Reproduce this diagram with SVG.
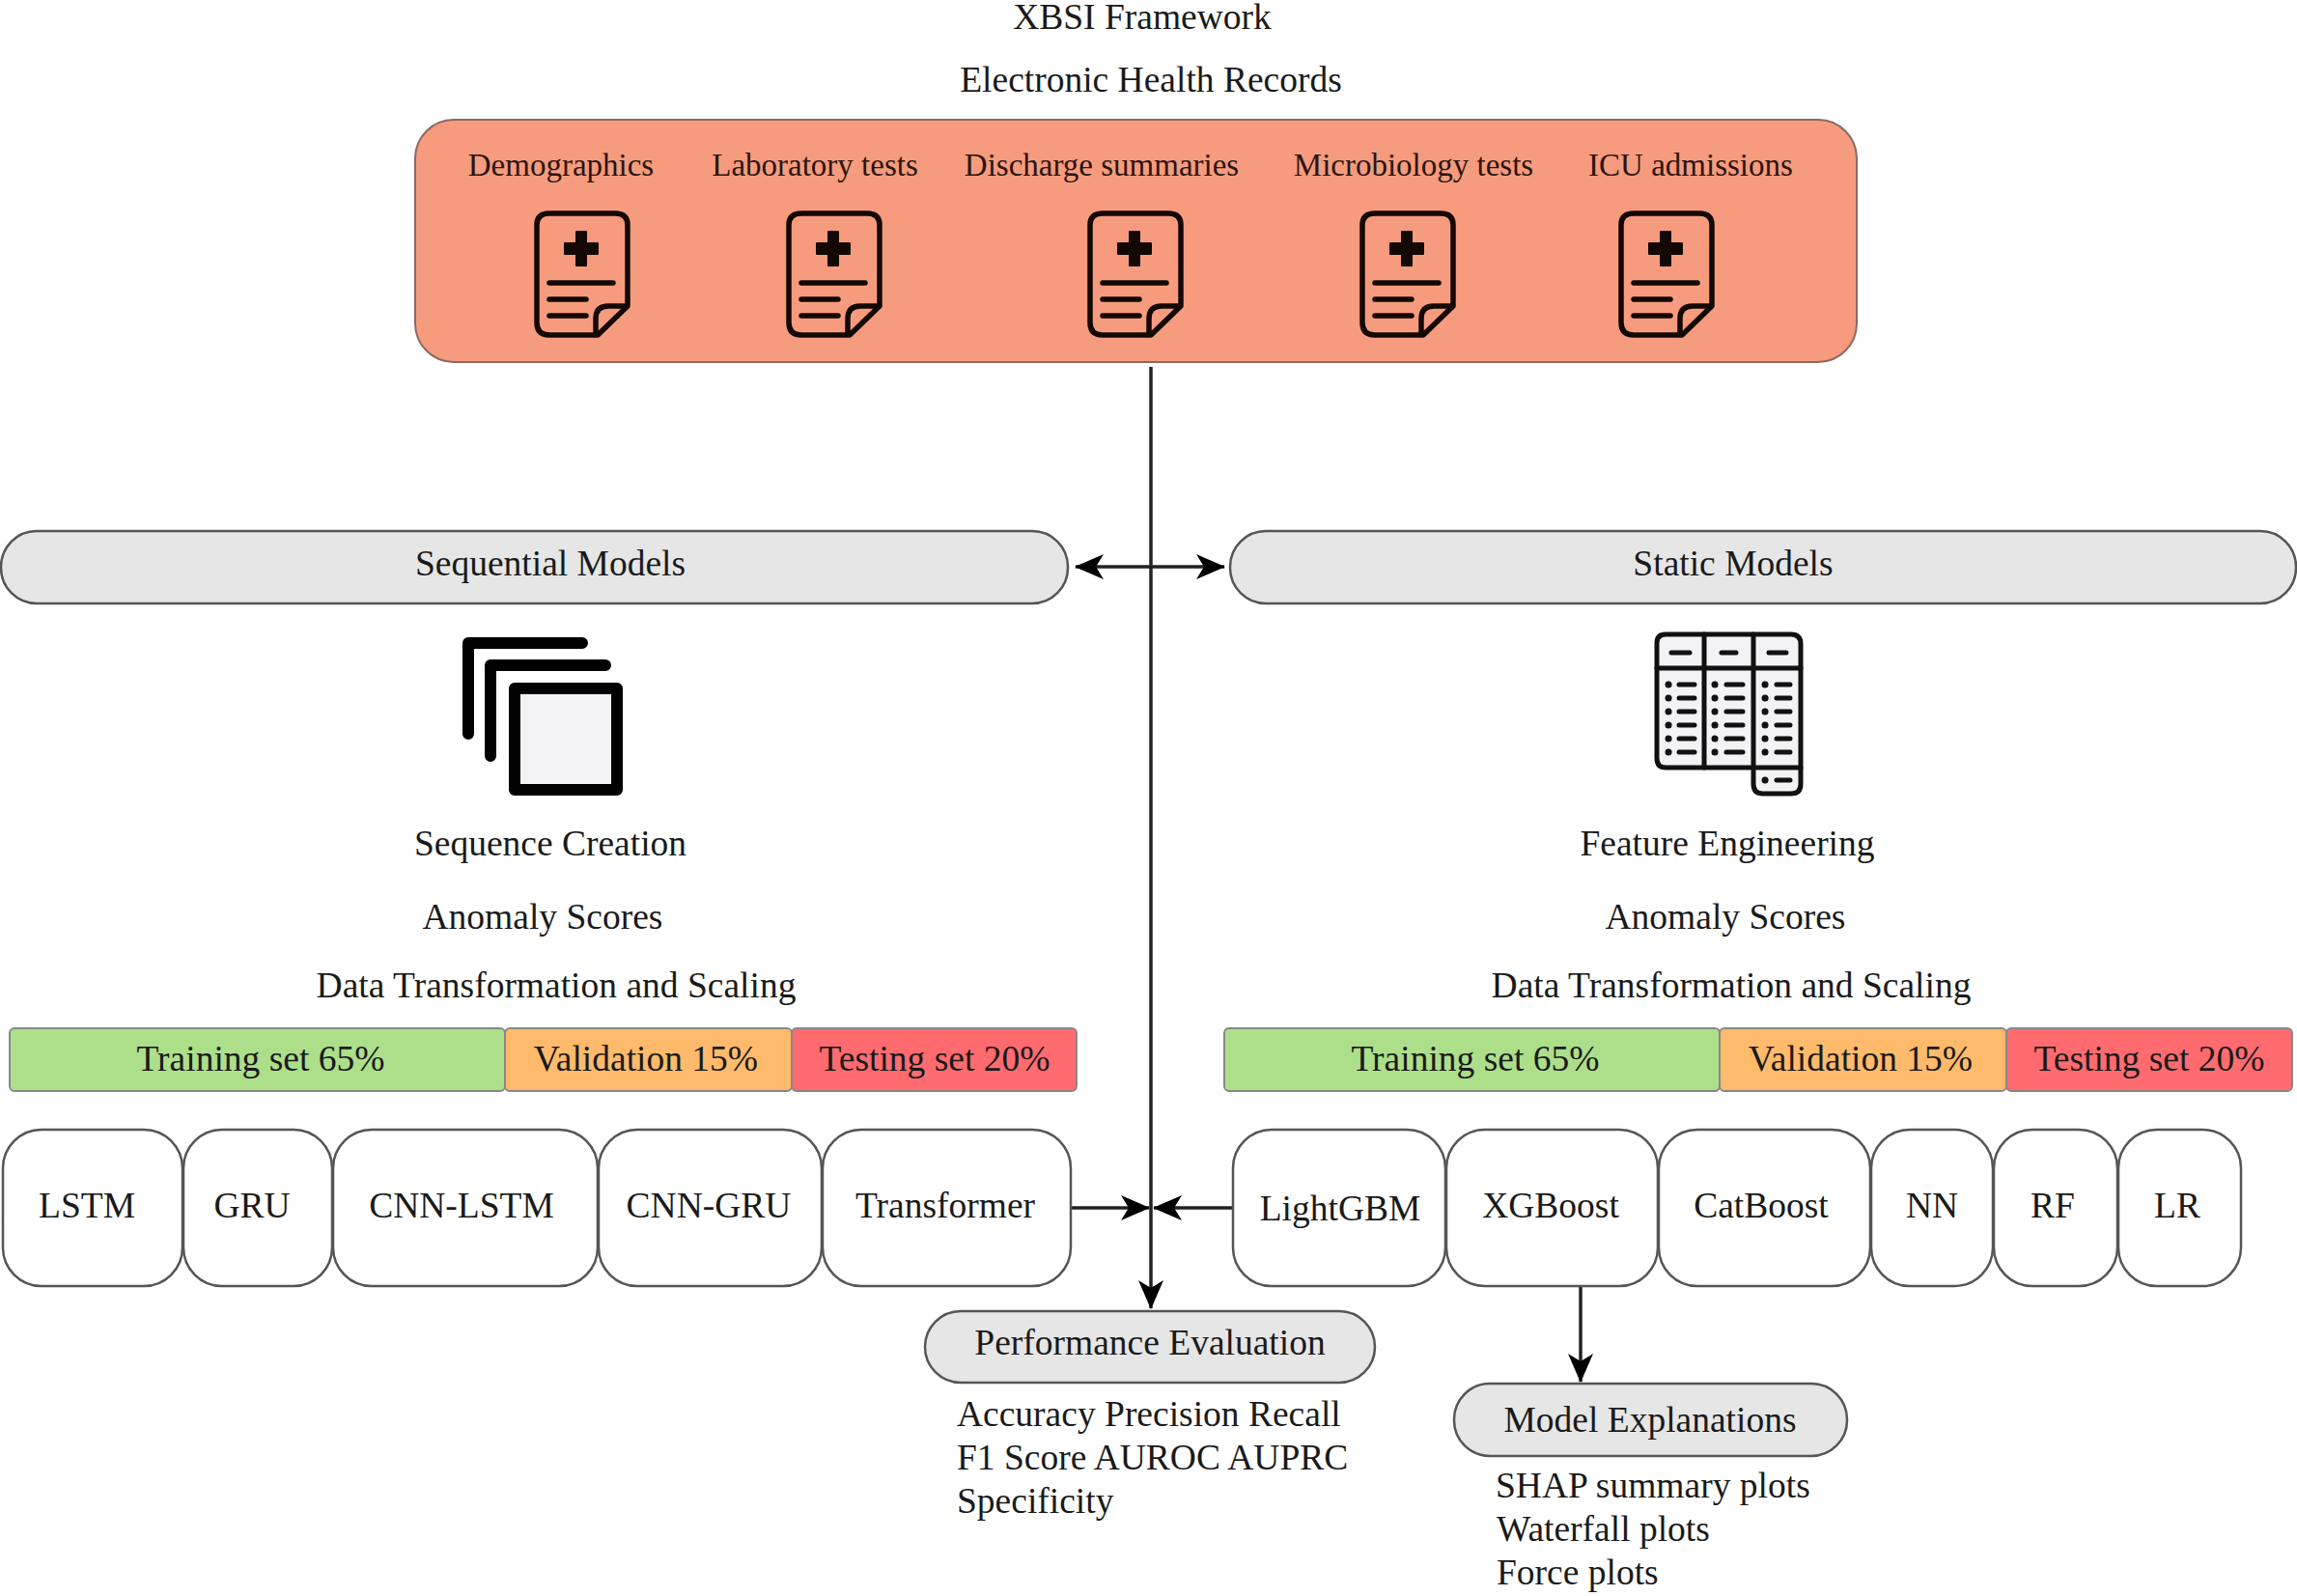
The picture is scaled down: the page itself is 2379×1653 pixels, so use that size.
<svg xmlns="http://www.w3.org/2000/svg" xmlns:xlink="http://www.w3.org/1999/xlink" width="2379" height="1653" viewBox="0 0 2379 1653">
<style>
text{font-family:"Liberation Serif","Times New Roman",serif;font-size:37.5px;fill:#1a1a1a}
.m{text-anchor:middle}
.s{font-size:33px;fill:#2b1510}
.pill{fill:#e6e6e6;stroke:#555;stroke-width:2.5}
.box{fill:#fff;stroke:#555;stroke-width:2.5}
.bar{stroke:#888;stroke-width:2}
.conn{fill:none;stroke:#222;stroke-width:3.5}
.ic{fill:none;stroke:#140805;stroke-width:5.5;stroke-linecap:round;stroke-linejoin:round}
</style>
<defs>
<marker id="ah" viewBox="0 0 30 26" refX="29" refY="13" markerWidth="30" markerHeight="26" markerUnits="userSpaceOnUse" orient="auto-start-reverse"><path d="M0 0L30 13L0 26L8 13Z" fill="#000"/></marker>
<symbol id="doc" overflow="visible"><g class="ic">
<path d="M62 129H16Q3 129 3 116V15Q3 3 16 3H84Q97 3 97 15V99L66 129Q64 129 62 129Z"/>
<path d="M64 128V112Q64 99 77 99H96"/>
<path d="M16 75H82M16 92H54M16 109H54"/></g>
<path d="M44 22H54V34H66V45H54V57H44V45H32V34H44Z" fill="#140805" stroke="#140805" stroke-width="2" stroke-linejoin="round"/>
</symbol>
</defs>
<rect width="2379" height="1653" fill="#fff"/>
<text class="m" x="1183" y="30">XBSI Framework</text>
<text class="m" x="1192" y="95">Electronic Health Records</text>
<g id="ehr">
<rect x="430" y="124" width="1493" height="251" rx="40" fill="#f79b7e" stroke="#8a6a60" stroke-width="2"/>
<text class="m s" x="581" y="182">Demographics</text>
<text class="m s" x="844" y="182">Laboratory tests</text>
<text class="m s" x="1141" y="182">Discharge summaries</text>
<text class="m s" x="1464" y="182">Microbiology tests</text>
<text class="m s" x="1751" y="182">ICU admissions</text>
<use xlink:href="#doc" href="#doc" x="553" y="218"/>
<use xlink:href="#doc" href="#doc" x="814" y="218"/>
<use xlink:href="#doc" href="#doc" x="1126" y="218"/>
<use xlink:href="#doc" href="#doc" x="1408" y="218"/>
<use xlink:href="#doc" href="#doc" x="1676" y="218"/>
</g>
<g id="connectors">
<path class="conn" d="M1192 380V1355" marker-end="url(#ah)"/>
<path class="conn" d="M1114 587H1268" marker-start="url(#ah)" marker-end="url(#ah)"/>
<path class="conn" d="M1109 1251H1190" marker-end="url(#ah)"/>
<path class="conn" d="M1277 1251H1195" marker-end="url(#ah)"/>
<path class="conn" d="M1637 1332V1431" marker-end="url(#ah)"/>
</g>
<g id="sequential-models"><rect class="pill" x="1" y="550" width="1105" height="75" rx="37"/><text class="m" x="570" y="596">Sequential Models</text></g>
<g id="static-models"><rect class="pill" x="1274" y="550" width="1104" height="75" rx="37"/><text class="m" x="1795" y="596">Static Models</text></g>
<g id="sequence-icon">
<path d="M603 666H485V760M627 689H508V783" fill="none" stroke="#000" stroke-width="12" stroke-linecap="round" stroke-linejoin="round"/>
<rect x="533" y="713" width="106" height="105" fill="#f3f3f5" stroke="#000" stroke-width="12" stroke-linejoin="round"/>
</g>
<g id="table-icon" fill="none" stroke="#111" stroke-width="5" stroke-linecap="round">
<path fill="#f3f3f5" d="M1725 657H1855Q1865 657 1865 667V812Q1865 822 1855 822H1826Q1816 822 1816 812V795H1725Q1716 795 1716 785V666Q1716 657 1725 657Z"/>
<path d="M1716 692H1865M1765 657V795M1816 657V795M1816 795H1865"/>
<path d="M1731 676H1750M1783 676H1798M1832 676H1850"/>
<path d="M1739 709H1755M1788 709H1805M1840 709H1854M1739 723H1755M1788 723H1805M1840 723H1854M1739 737H1755M1788 737H1805M1840 737H1854M1739 751H1755M1788 751H1805M1840 751H1854M1739 765H1755M1788 765H1805M1840 765H1854M1739 779H1755M1788 779H1805M1840 779H1854M1840 808H1854"/>
<path stroke-width="7" d="M1728 709h.1M1776 709h.1M1828 709h.1M1728 723h.1M1776 723h.1M1828 723h.1M1728 737h.1M1776 737h.1M1828 737h.1M1728 751h.1M1776 751h.1M1828 751h.1M1728 765h.1M1776 765h.1M1828 765h.1M1728 779h.1M1776 779h.1M1828 779h.1M1828 808h.1"/>
</g>
<g id="left-steps">
<text class="m" x="570" y="886">Sequence Creation</text>
<text class="m" x="562" y="962">Anomaly Scores</text>
<text class="m" x="576" y="1033">Data Transformation and Scaling</text>
</g>
<g id="right-steps">
<text class="m" x="1789" y="886">Feature Engineering</text>
<text class="m" x="1787" y="962">Anomaly Scores</text>
<text class="m" x="1793" y="1033">Data Transformation and Scaling</text>
</g>
<g id="left-split">
<rect class="bar" x="10" y="1065" width="513" height="65" rx="5" fill="#addf8b"/>
<rect class="bar" x="523" y="1065" width="297" height="65" rx="5" fill="#ffba6b"/>
<rect class="bar" x="820" y="1065" width="295" height="65" rx="5" fill="#ff6b6f"/>
<text class="m" x="270" y="1109">Training set 65%</text>
<text class="m" x="669" y="1109">Validation 15%</text>
<text class="m" x="968" y="1109">Testing set 20%</text>
</g>
<g id="right-split">
<rect class="bar" x="1268" y="1065" width="513" height="65" rx="5" fill="#addf8b"/>
<rect class="bar" x="1781" y="1065" width="297" height="65" rx="5" fill="#ffba6b"/>
<rect class="bar" x="2078" y="1065" width="296" height="65" rx="5" fill="#ff6b6f"/>
<text class="m" x="1528" y="1109">Training set 65%</text>
<text class="m" x="1927" y="1109">Validation 15%</text>
<text class="m" x="2226" y="1109">Testing set 20%</text>
</g>
<g id="lstm"><rect class="box" x="3" y="1170" width="186" height="162" rx="40"/><text class="m" x="90" y="1261">LSTM</text></g>
<g id="gru"><rect class="box" x="190" y="1170" width="154" height="162" rx="40"/><text class="m" x="261" y="1261">GRU</text></g>
<g id="cnn-lstm"><rect class="box" x="345" y="1170" width="274" height="162" rx="40"/><text class="m" x="478" y="1261">CNN-LSTM</text></g>
<g id="cnn-gru"><rect class="box" x="620" y="1170" width="231" height="162" rx="40"/><text class="m" x="734" y="1261">CNN-GRU</text></g>
<g id="transformer"><rect class="box" x="852" y="1170" width="257" height="162" rx="40"/><text class="m" x="979" y="1261">Transformer</text></g>
<g id="lightgbm"><rect class="box" x="1277" y="1170" width="220" height="162" rx="40"/><text class="m" x="1388" y="1264">LightGBM</text></g>
<g id="xgboost"><rect class="box" x="1498" y="1170" width="219" height="162" rx="40"/><text class="m" x="1606" y="1261">XGBoost</text></g>
<g id="catboost"><rect class="box" x="1718" y="1170" width="219" height="162" rx="40"/><text class="m" x="1824" y="1261">CatBoost</text></g>
<g id="nn"><rect class="box" x="1938" y="1170" width="126" height="162" rx="40"/><text class="m" x="2001" y="1261">NN</text></g>
<g id="rf"><rect class="box" x="2065" y="1170" width="128" height="162" rx="40"/><text class="m" x="2126" y="1261">RF</text></g>
<g id="lr"><rect class="box" x="2194" y="1170" width="127" height="162" rx="40"/><text class="m" x="2255" y="1261">LR</text></g>
<g id="performance"><rect class="pill" x="958" y="1358" width="466" height="74" rx="37"/><text class="m" x="1191" y="1403">Performance Evaluation</text>
<text x="991" y="1477">Accuracy Precision Recall</text>
<text x="991" y="1522">F1 Score AUROC AUPRC</text>
<text x="991" y="1567">Specificity</text></g>
<g id="explanations"><rect class="pill" x="1506" y="1433" width="407" height="75" rx="37"/><text class="m" x="1709" y="1483">Model Explanations</text>
<text x="1549" y="1551">SHAP summary plots</text>
<text x="1550" y="1596">Waterfall plots</text>
<text x="1550" y="1641">Force plots</text></g>
</svg>
